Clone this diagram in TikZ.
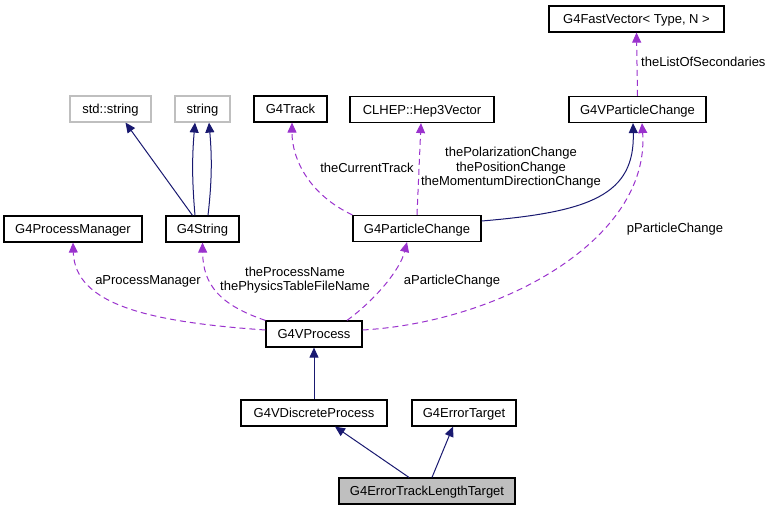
\documentclass[tikz,border=0pt]{standalone}
\usepackage{fontspec}
\setmainfont{Liberation Sans}
\usetikzlibrary{arrows.meta}
\definecolor{DoxNavy}{RGB}{25,25,112}
\definecolor{DoxPurple}{RGB}{154,50,205}
\definecolor{DoxGray}{RGB}{191,191,191}

\begin{document}
\begin{tikzpicture}[
    x=1pt, y=-1pt,
    cls/.style={draw, line width=1.2pt, minimum height=26pt, inner sep=0pt,
      text height=9.3pt, text depth=0pt, font=\fontsize{13}{14.5}\selectfont},
    ext/.style={cls, draw=DoxGray},
    inh/.style={DoxNavy, line width=1pt, -{Triangle[length=10pt, width=9pt]}},
    usage/.style={DoxPurple, line width=1pt, dash pattern=on 6pt off 4pt,
      -{Triangle[length=10pt, width=9pt]}},
    lbl/.style={inner sep=0pt, align=center, font=\fontsize{13}{14.5}\selectfont}
  ]
  \useasboundingbox (0,0) rectangle (772,507);

  % classes
  \node[cls, minimum width=175pt] (fastvec) at (636.5,19) {G4FastVector< Type, N >};
  \node[ext, minimum width=81pt] (stdstr) at (110.5,109) {std::string};
  \node[ext, minimum width=55pt] (str) at (202.5,109) {string};
  \node[cls, minimum width=73pt] (track) at (290.5,109) {G4Track};
  \node[cls, minimum width=144pt] (hep) at (422,109.5) {CLHEP::Hep3Vector};
  \node[cls, minimum width=137pt] (vpc) at (637.5,109.5) {G4VParticleChange};
  \node[cls, minimum width=138pt] (pman) at (73,229) {G4ProcessManager};
  \node[cls, minimum width=73pt] (g4str) at (202.5,229) {G4String};
  \node[cls, minimum width=128pt] (pchange) at (417,228.5) {G4ParticleChange};
  \node[cls, minimum width=96pt] (vproc) at (314,334) {G4VProcess};
  \node[cls, minimum width=146pt] (vdisc) at (314,413) {G4VDiscreteProcess};
  \node[cls, minimum width=104pt] (errtgt) at (464,413) {G4ErrorTarget};
  \node[cls, minimum width=176pt, fill=DoxGray] (tlt) at (427,491) {G4ErrorTrackLengthTarget};

  % inheritance
  \draw[inh] ([xshift=-10pt]g4str.north) -- ([xshift=15pt]stdstr.south);
  \draw[inh] ([xshift=-7.5pt]g4str.north) .. controls +(-3,-35) and +(-3,35) .. ([xshift=-7.5pt]str.south);
  \draw[inh] ([xshift=5.5pt]g4str.north) .. controls +(4,-35) and +(3,35) .. ([xshift=6.5pt]str.south);
  \draw[inh] ([yshift=7.5pt]pchange.east) .. controls (590,212) and (635,195) .. ([xshift=-4.5pt]vpc.south);
  \draw[inh] (vdisc.north) -- (vproc.south);
  \draw[inh] ([xshift=-18pt]tlt.north) -- ([xshift=21pt]vdisc.south);
  \draw[inh] ([xshift=5pt]tlt.north) -- ([xshift=-11pt]errtgt.south);

  % usage
  \draw[usage] (pchange.north west) .. controls (310,195) and (292,160) .. ([xshift=1.5pt]track.south);
  \draw[usage] (pchange.north) -- ([xshift=-1pt]hep.south);
  \draw[usage] (vpc.north) -- (fastvec.south);
  \draw[usage] ([yshift=4pt]vproc.east) .. controls (500,322) and (650,240) .. ([xshift=4.5pt]vpc.south);
  \draw[usage] ([yshift=4pt]vproc.west) .. controls (150,322) and (75,305) .. (pman.south);
  \draw[usage] (vproc.north west) .. controls (220,305) and (203,285) .. (g4str.south);
  \draw[usage] ([xshift=33pt]vproc.north) .. controls (375,300) and (400,270) .. ([xshift=-10pt]pchange.south);

  % labels
  \node[lbl] (lcur) at (367,168) {theCurrentTrack};
  \node[lbl] (lhep) at (511,168) {thePolarizationChange\\thePositionChange\\theMomentumDirectionChange};
  \node[lbl, anchor=west] (llist) at (641,62) {theListOfSecondaries};
  \node[lbl] (lpchg) at (675,229) {pParticleChange};
  \node[lbl] (lpman) at (148,281) {aProcessManager};
  \node[lbl] (lname) at (295,280) {theProcessName\\thePhysicsTableFileName};
  \node[lbl] (lapc) at (452,281) {aParticleChange};
\end{tikzpicture}
\end{document}
